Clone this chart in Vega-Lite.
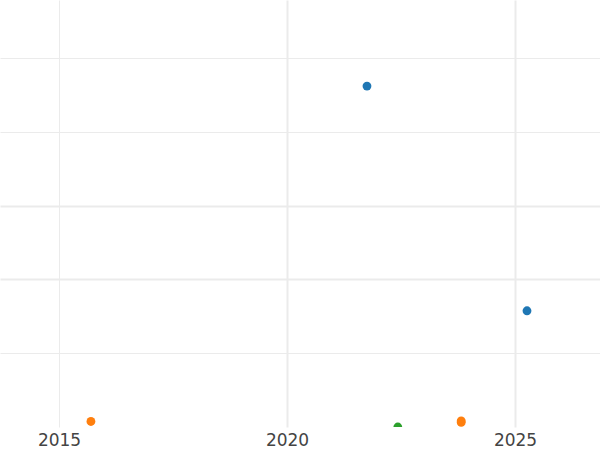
{
  "$schema": "https://vega.github.io/schema/vega-lite/v6.json",
  "width": 600,
  "height": 427,
  "autosize": "none",
  "padding": {"left": 0, "top": 0, "right": 0, "bottom": 23},
  "background": "white",
  "config": {"view": {"stroke": null}},
  "data": {
    "values": [
      {"year": 2021.754, "value": 4.62, "series": "A"},
      {"year": 2025.263, "value": 1.575, "series": "A"},
      {"year": 2015.70, "value": 0.075, "series": "B"},
      {"year": 2023.82, "value": 0.082, "series": "B"},
      {"year": 2023.82, "value": 0.062, "series": "B"},
      {"year": 2022.43, "value": 0.0, "series": "C"}
    ]
  },
  "mark": {"type": "circle", "size": 78, "opacity": 1, "clip": true},
  "encoding": {
    "x": {
      "field": "year",
      "type": "quantitative",
      "scale": {"domain": [2013.706, 2026.864], "nice": false, "zero": false},
      "axis": {
        "title": null,
        "values": [2015, 2020, 2025],
        "format": "d",
        "domain": false,
        "ticks": false,
        "labelFont": "DejaVu Sans",
        "labelFontSize": 17,
        "labelColor": "#444444",
        "labelPadding": 5,
        "gridColor": "#ebebeb",
        "gridWidth": {"condition": {"test": "datum.value == 2015", "value": 1}, "value": 2}
      }
    },
    "y": {
      "field": "value",
      "type": "quantitative",
      "scale": {"domain": [0, 5.786], "nice": false, "zero": false},
      "axis": {
        "title": null,
        "values": [1, 2, 3, 4, 5],
        "labels": false,
        "domain": false,
        "ticks": false,
        "gridColor": "#ebebeb",
        "gridWidth": {"condition": {"test": "datum.value == 2 || datum.value == 3", "value": 2}, "value": 1}
      }
    },
    "color": {
      "field": "series",
      "type": "nominal",
      "scale": {"domain": ["A", "B", "C"], "range": ["#1f77b4", "#ff7f0e", "#2ca02c"]},
      "legend": null
    }
  }
}
